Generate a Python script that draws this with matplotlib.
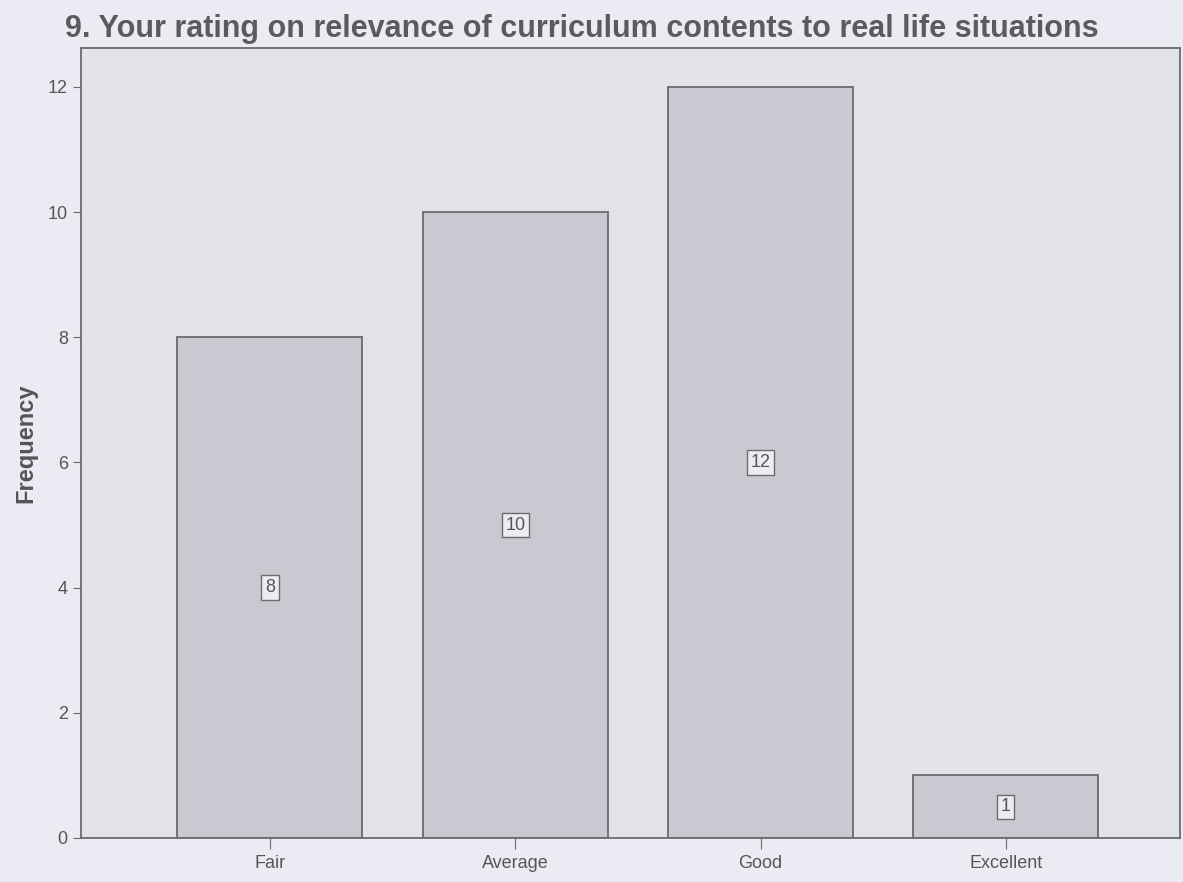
import numpy as np
import matplotlib.pyplot as plt

plt.rcParams['font.family'] = ['Liberation Sans', 'DejaVu Sans']

categories = ['Fair', 'Average', 'Good', 'Excellent']
frequency = [8, 10, 12, 1]

fig = plt.figure(figsize=(11.83, 8.82), dpi=100)
fig.patch.set_facecolor('#ebebf3')
ax = fig.add_axes([81 / 1183, 1 - 838 / 882, (1180 - 81) / 1183, (838 - 48) / 882])
ax.set_facecolor('#e2e2e9')

x = np.arange(len(categories))
bars = ax.bar(x, frequency, width=0.755, color='#c9c9d1', edgecolor='#6a6a70', linewidth=1.3)

# value labels in boxes at bar middles
for xi, v in zip(x, frequency):
    ax.text(xi, v / 2, str(v), ha='center', va='center', fontsize=13, color='#555558',
            bbox=dict(boxstyle='square,pad=0.2', facecolor='#ececf4', edgecolor='#6a6a70', linewidth=1))

ax.set_xlim(-0.77, 3.71)
ax.set_ylim(0, 12.62)
ax.set_xticks(x)
ax.set_xticklabels(categories, fontsize=13, color='#555558')
ax.set_yticks(np.arange(0, 13, 2))
ax.tick_params(axis='y', labelsize=13, labelcolor='#555558', color='#6a6a70', length=6, direction='out')
ax.tick_params(axis='x', color='#6a6a70', length=8, direction='out', pad=4)
for s in ax.spines.values():
    s.set_color('#6a6a70')
    s.set_linewidth(1.3)

ax.set_ylabel('Frequency', fontsize=17, fontweight='bold', color='#555558')
ax.yaxis.set_label_coords(-0.040, 0.5)
fig.text(65 / 1183, 1 - 29 / 882, '9. Your rating on relevance of curriculum contents to real life situations',
         fontsize=22, fontweight='bold', color='#5a5a60', ha='left', va='center')

fig.savefig('out.png', dpi=100, facecolor=fig.get_facecolor())
